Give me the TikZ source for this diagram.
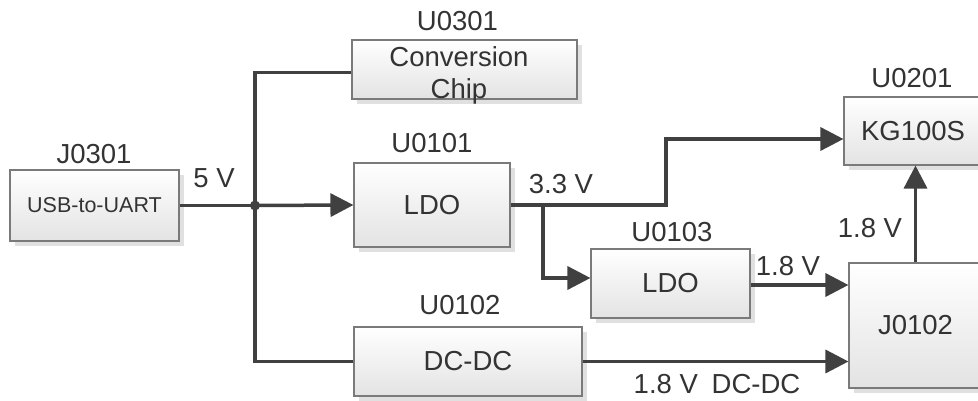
\documentclass[tikz,border=0pt]{standalone}
\usepackage{fontspec}
\setmainfont{Liberation Sans}
\usetikzlibrary{arrows.meta,shadows}
\definecolor{txt}{HTML}{333333}
\definecolor{wirec}{HTML}{404040}
\definecolor{edgec}{HTML}{7a7a7a}
\begin{document}
\begin{tikzpicture}[x=1pt,y=-1pt,
  blk/.style={draw=edgec, line width=1.1pt, top color=white, bottom color=black!11,
    general shadow={fill=black!12, shadow xshift=5pt, shadow yshift=-5pt},
    text=txt, font=\fontsize{27.5}{32}\selectfont, inner sep=0pt, align=center},
  lbl/.style={text=txt, font=\fontsize{27.5}{32}\selectfont, inner sep=0pt, align=center},
  wire/.style={draw=wirec, line width=3.5pt},
  arr/.style={wire, -{Triangle[length=23pt,width=23pt]}}]
\useasboundingbox (0,0) rectangle (978,401);
\clip (0,0) rectangle (978,401);
% boxes
\node[blk, minimum width=169pt, minimum height=71pt] (j0301) at (94.5,205.5) {\fontsize{21.5}{24}\selectfont USB-to-UART};
\node[blk, minimum width=225pt, minimum height=59pt] (u0301) at (464.5,69.5) {};
\node[lbl, font=\fontsize{27.5}{32}\selectfont] (tu0301) at (459,75) {Conversion\\Chip};
\node[blk, minimum width=156pt, minimum height=84pt] (u0101) at (432,205) {LDO};
\node[blk, minimum width=159pt, minimum height=69pt] (u0103) at (670.5,283.5) {LDO};
\node[blk, minimum width=228pt, minimum height=69pt] (u0102) at (468,361.5) {DC-DC};
\node[blk, minimum width=133pt, minimum height=125pt] (j0102) at (915.5,325.5) {J0102};
\node[blk, minimum width=138pt, minimum height=68pt] (kg) at (913,131) {KG100S};
% labels
\node[lbl] (lj0301) at (94,154) {J0301};
\node[lbl] (lu0301) at (457.5,21) {U0301};
\node[lbl] (lu0101) at (432,143) {U0101};
\node[lbl] (lu0103) at (672,232) {U0103};
\node[lbl] (lu0102) at (460,305) {U0102};
\node[lbl] (lu0201) at (912,78) {U0201};
\node[lbl] (l5v) at (214,178) {5 V};
\node[lbl] (l33v) at (561,184) {3.3 V};
\node[lbl] (l18a) at (788,266) {1.8 V};
\node[lbl] (l18b) at (870,228) {1.8 V};
\node[lbl] (l18c) at (717,384) {1.8 V\hspace{0.5em}DC-DC};
% wires
\coordinate (jn) at (255,205.5);
\coordinate (b33) at (543,205);
\coordinate (turn) at (666,205);
\draw[wire] (j0301.east) -- (jn);
\draw[arr] (jn) -- (u0101.west);
\draw[wire] (jn) |- ([yshift=-3pt]u0301.west);
\draw[wire] (jn) |- (u0102.west);
\fill[wirec] (jn) circle (5pt);
\draw[arr] (u0101.east) -- (turn) |- ([yshift=-8pt]kg.west);
\draw[arr] (b33) |- ([yshift=5.5pt]u0103.west);
\draw[arr] ([yshift=-1.5pt]u0103.east) -- ([yshift=-1.5pt]u0103.east -| j0102.west);
\draw[arr] (u0102.east) -- (u0102.east -| j0102.west);
\draw[arr] (j0102.north) -- (j0102.north |- kg.south);
\end{tikzpicture}
\end{document}
